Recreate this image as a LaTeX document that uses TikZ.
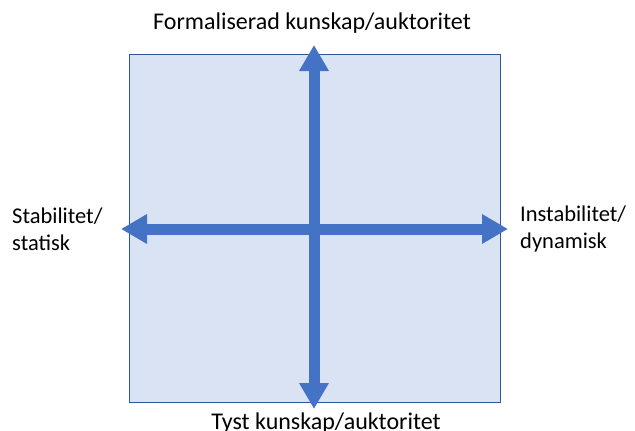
\documentclass[tikz,border=0pt]{standalone}
\usepackage{fontspec}
\setmainfont{Carlito}
\usetikzlibrary{arrows.meta,positioning}
\definecolor{quadfill}{HTML}{DAE3F3}
\definecolor{quadedge}{HTML}{2F5597}
\definecolor{axisblue}{HTML}{4472C4}
\tikzset{
    quadrant/.style={fill=quadfill,draw=quadedge,line width=0.9pt},
    axis arrow/.style={axisblue,line width=11pt,
        {Triangle[length=26pt,width=28pt]}-{Triangle[length=26pt,width=28pt]}},
    axis label/.style={font=\fontsize{24}{29}\selectfont,inner sep=0pt},
    side label/.style={font=\fontsize{22.5}{27}\selectfont,inner sep=0pt,anchor=west,align=left},
}

\begin{document}
\begin{tikzpicture}[x=1pt,y=-1pt]
    \useasboundingbox (0,0) rectangle (635,431);
    % background square
    \draw[quadrant] (129,54) rectangle (500,402);

    % axis end points
    \coordinate (top) at (314,45);
    \coordinate (bottom) at (314,409);
    \coordinate (left) at (121,229);
    \coordinate (right) at (508,229);

    \draw[axis arrow] (bottom) -- (top);
    \draw[axis arrow] (left) -- (right);

    % labels
    \node[axis label, anchor=base] (formal) at (312,29) {Formaliserad kunskap/auktoritet};
    \node[axis label, anchor=base] (tyst) at (326,429) {Tyst kunskap/auktoritet};
    \node[side label] (stab) at (12,229) {Stabilitet/\\statisk};
    \node[side label] (instab) at (520,229) {Instabilitet/\\dynamisk};
\end{tikzpicture}
\end{document}
